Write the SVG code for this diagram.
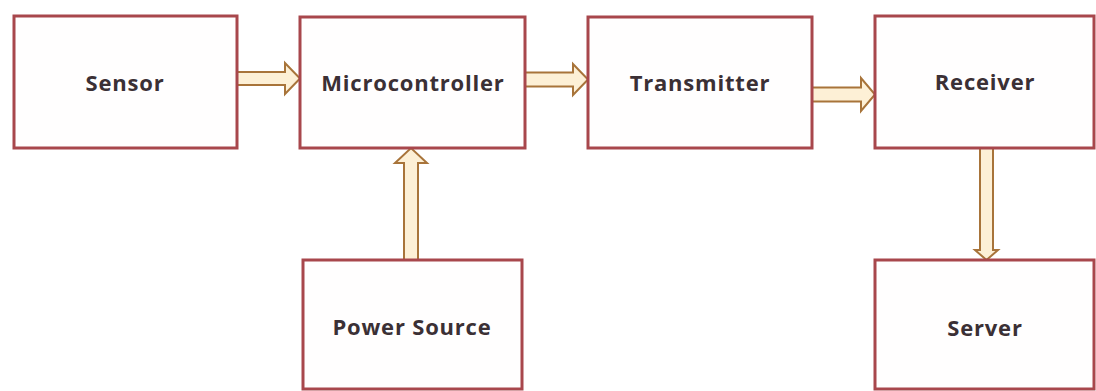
<svg xmlns="http://www.w3.org/2000/svg" width="1096" height="391" viewBox="0 0 1096 391">
<style>
.box{fill:#fffefe;stroke:#a8474c;stroke-width:3}
.lbl{font-family:"Open Sans","Liberation Sans",sans-serif;font-weight:700;font-size:22px;letter-spacing:0.8px;fill:#3b3035;text-anchor:middle}
.arr{fill:#fdf0d6;stroke:#a8743a;stroke-width:2;stroke-linejoin:miter}
</style>
<rect width="1096" height="391" fill="#ffffff"/>
<g id="connectors">
<polygon class="arr" points="237,72 285,72 285,63 300,78.5 285,94 285,85 237,85"/>
<polygon class="arr" points="525,72.5 573,72.5 573,64 588,79.5 573,95 573,86.5 525,86.5"/>
<polygon class="arr" points="812,87.5 861,87.5 861,78 875,94.5 861,111 861,101.5 812,101.5"/>
<polygon class="arr" points="404,260 404,163 395,163 411,148 427,163 418,163 418,260"/>
<polygon class="arr" points="980,148 980,250 975,250 986.5,260 998,250 993,250 993,148"/>
</g>
<g id="sensor"><rect class="box" x="14" y="16" width="223" height="132"/><text class="lbl" x="125" y="91">Sensor</text></g>
<g id="microcontroller"><rect class="box" x="300" y="17" width="225" height="131"/><text class="lbl" x="413" y="91">Microcontroller</text></g>
<g id="transmitter"><rect class="box" x="588" y="17" width="224" height="131"/><text class="lbl" x="700" y="91">Transmitter</text></g>
<g id="receiver"><rect class="box" x="875" y="16" width="219" height="132"/><text class="lbl" x="985" y="90">Receiver</text></g>
<g id="power-source"><rect class="box" x="303" y="260" width="219" height="129"/><text class="lbl" x="412" y="335">Power Source</text></g>
<g id="server"><rect class="box" x="875" y="260" width="219" height="129"/><text class="lbl" x="985" y="336">Server</text></g>
</svg>
